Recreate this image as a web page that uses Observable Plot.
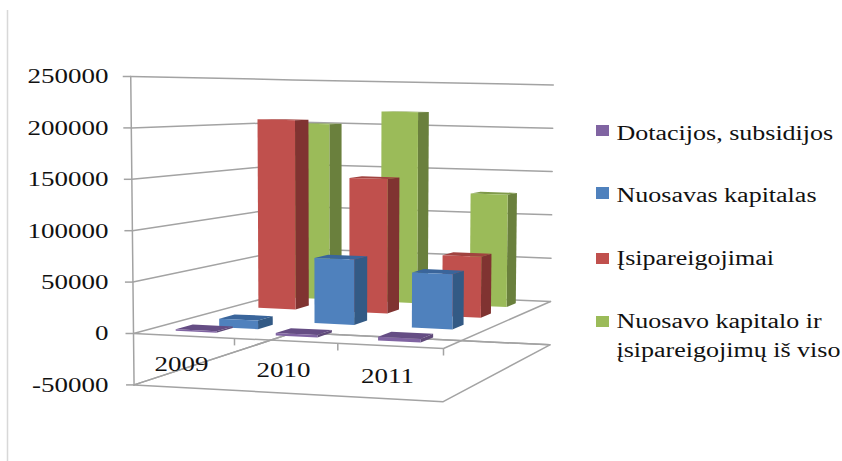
<!DOCTYPE html>
<html>
<head>
<meta charset="utf-8">
<script src="https://cdn.jsdelivr.net/npm/d3@7"></script>
<script src="https://cdn.jsdelivr.net/npm/@observablehq/plot@0.6"></script>
<style>
  html, body { margin: 0; padding: 0; background: #fff; }
  svg { display: block; }
</style>
</head>
<body>
<div id="chart"></div>
<script>
// Chart values
const years = ["2009", "2010", "2011"];
const seriesNames = ["Dotacijos, subsidijos", "Nuosavas kapitalas", "Įsipareigojimai", "Nuosavo kapitalo ir įsipareigojimų iš viso"];
const dotacijos = [1500, 2500, 3500];
const nuosavas = [-9000, 67000, 56000];
const isipareigojimai = [206000, 145000, 65000];
const viso = [200000, 216000, 126000];
const valueTicks = [250000, 200000, 150000, 100000, 50000, 0, -50000];

// Palette per series: front, side and top faces
const faceColors = [
  {front: "#8064a2", side: "#5f4a79", top: "#654d84"},
  {front: "#4f81bd", side: "#335a85", top: "#3a659b"},
  {front: "#c0504d", side: "#803331", top: "#a14340"},
  {front: "#9bbb59", side: "#6a803d", top: "#7f9a4a"}
];

// Perspective box: floor corners at value 0 and the vertical scale
const W = 842, H = 461;
const floor = {a: [133, 333], b: [443, 348], c: [550, 301], d: [293, 290]};
const pxPerUnit = 51.4 / 50000;
const flare = 0.016 / 300000, flareCentre = 340;

const dx1 = floor.b[0] - floor.c[0], dy1 = floor.b[1] - floor.c[1];
const dx2 = floor.d[0] - floor.c[0], dy2 = floor.d[1] - floor.c[1];
const sx = floor.a[0] - floor.b[0] + floor.c[0] - floor.d[0];
const sy = floor.a[1] - floor.b[1] + floor.c[1] - floor.d[1];
const det = dx1 * dy2 - dy1 * dx2;
const g = (sx * dy2 - sy * dx2) / det;
const h = (dx1 * sy - dy1 * sx) / det;

// u runs along the categories, v into the depth, z is the value
function project(u, v, z) {
  const w = 1 + g * u + h * v;
  const nx = (floor.b[0] - floor.a[0] + g * floor.b[0]) * u + (floor.d[0] - floor.a[0] + h * floor.d[0]) * v + floor.a[0];
  const ny = (floor.b[1] - floor.a[1] + g * floor.b[1]) * u + (floor.d[1] - floor.a[1] + h * floor.d[1]) * v + floor.a[1];
  const x = nx / w, y = (ny - z * pxPerUnit) / w;
  return [flareCentre + (x - flareCentre) * (1 + flare * z), y];
}

// Polygon faces of every column, painted from the back row forward.
// A negative value hangs below the zero level.
const allSeries = [dotacijos, nuosavas, isipareigojimai, viso];
const halfWidth = 0.205 / 3, halfDepth = 0.19 / 4, columnShift = -0.006;
const faces = [];
function addFace(id, color, corners) {
  for (const c of corners) {
    const [x, y] = project(...c);
    faces.push({id, color, x, y});
  }
}
for (let s = 3; s >= 0; s--) {
  years.forEach((year, i) => {
    const value = allSeries[s][i];
    const high = Math.max(value, 0), low = Math.min(value, 0);
    const u0 = (i + 0.5) / 3 + columnShift - halfWidth, u1 = (i + 0.5) / 3 + columnShift + halfWidth;
    const v0 = (s + 0.5) / 4 - halfDepth, v1 = (s + 0.5) / 4 + halfDepth;
    const col = faceColors[s];
    addFace(`${s}-${i}-top`, col.top, [[u0, v0, high], [u1, v0, high], [u1, v1, high], [u0, v1, high]]);
    addFace(`${s}-${i}-side`, col.side, [[u1, v0, low], [u1, v1, low], [u1, v1, high], [u1, v0, high]]);
    addFace(`${s}-${i}-front`, col.front, [[u0, v0, low], [u1, v0, low], [u1, v0, high], [u0, v0, high]]);
  });
}

// Gridlines on the two walls, the box outlines and the axis ticks
const pathRows = [];
function addPath(id, corners) {
  for (const c of corners) {
    const [x, y] = project(...c);
    pathRows.push({id, x, y});
  }
}
for (const t of valueTicks) addPath(`grid${t}`, [[0, 0, t], [0, 1, t], [1, 1, t]]);
addPath("zeroFront", [[0, 0, 0], [1, 0, 0], [1, 1, 0]]);
addPath("axis", [[0, 0, -50000], [0, 0, 250000]]);
addPath("base", [[0, 0, -50000], [1, 0, -50000], [1, 1, -50000], [0, 1, -50000], [0, 0, -50000]]);

const valueTickMarks = valueTicks.map(t => {
  const [x, y] = project(0, 0, t);
  return {x1: x - 8, x2: x, y};
});
const catTickMarks = [1 / 3, 2 / 3, 1].map(u => {
  const [x, y] = project(u, 0, 0);
  return {x, y1: y, y2: y + 7};
});

// Text placement
const valueLabels = valueTickMarks.map((d, i) => ({text: String(valueTicks[i]), y: d.y + 0.5}));
const catLabelX = [181, 283, 387], catLabelY = [364, 370, 376];
const yearLabels = years.map((text, i) => ({text, x: catLabelX[i], y: catLabelY[i]}));
const legendY = [[125, 136], [187, 199], [253, 264], [316, 327]];
const legendSwatches = legendY.map((r, i) => ({y1: r[0], y2: r[1], color: faceColors[i].front}));
const legendLines = [
  {text: seriesNames[0], y: 133},
  {text: seriesNames[1], y: 195},
  {text: seriesNames[2], y: 258},
  {text: "Nuosavo kapitalo ir", y: 321},
  {text: "įsipareigojimų iš viso", y: 350}
];

const textStyle = {fontFamily: "Liberation Serif", fontSize: 20, fill: "#111", lineAnchor: "middle"};

const chart = Plot.plot({
  width: W, height: H, margin: 0,
  x: {domain: [0, W], range: [0, W], axis: null},
  y: {domain: [0, H], range: [0, H], axis: null},
  color: {type: "identity"},
  style: {background: "#fff"},
  marks: [
    Plot.ruleX([7], {y1: 10, y2: H, stroke: "#d8d8d8", strokeWidth: 1.5}),
    Plot.line(pathRows, {x: "x", y: "y", z: "id", stroke: "#a3a3a3", strokeWidth: 1.5}),
    Plot.link(valueTickMarks, {x1: "x1", x2: "x2", y1: "y", y2: "y", stroke: "#a3a3a3", strokeWidth: 1.5}),
    Plot.link(catTickMarks, {x1: "x", x2: "x", y1: "y1", y2: "y2", stroke: "#a3a3a3", strokeWidth: 1.5}),
    Plot.line(faces, {x: "x", y: "y", z: "id", fill: "color", stroke: "none"}),
    Plot.text(valueLabels, {x: 108, y: "y", text: "text", textAnchor: "end", className: "wide", ...textStyle}),
    Plot.text(yearLabels, {x: "x", y: "y", text: "text", className: "wide", ...textStyle}),
    Plot.rect(legendSwatches, {x1: 596, x2: 609, y1: "y1", y2: "y2", fill: "color"}),
    Plot.text(legendLines, {x: 616, y: "y", text: "text", textAnchor: "start", className: "legend", ...textStyle})
  ]
});
document.getElementById("chart").append(chart);

// The type is set wide, so each label is stretched along its run
function stretch(selector, factor) {
  chart.querySelectorAll(selector).forEach(t => {
    t.setAttribute("textLength", t.getComputedTextLength() * factor);
    t.setAttribute("lengthAdjust", "spacingAndGlyphs");
  });
}
stretch(".wide text", 1.35);
stretch(".legend text", 1.3);
</script>
</body>
</html>
